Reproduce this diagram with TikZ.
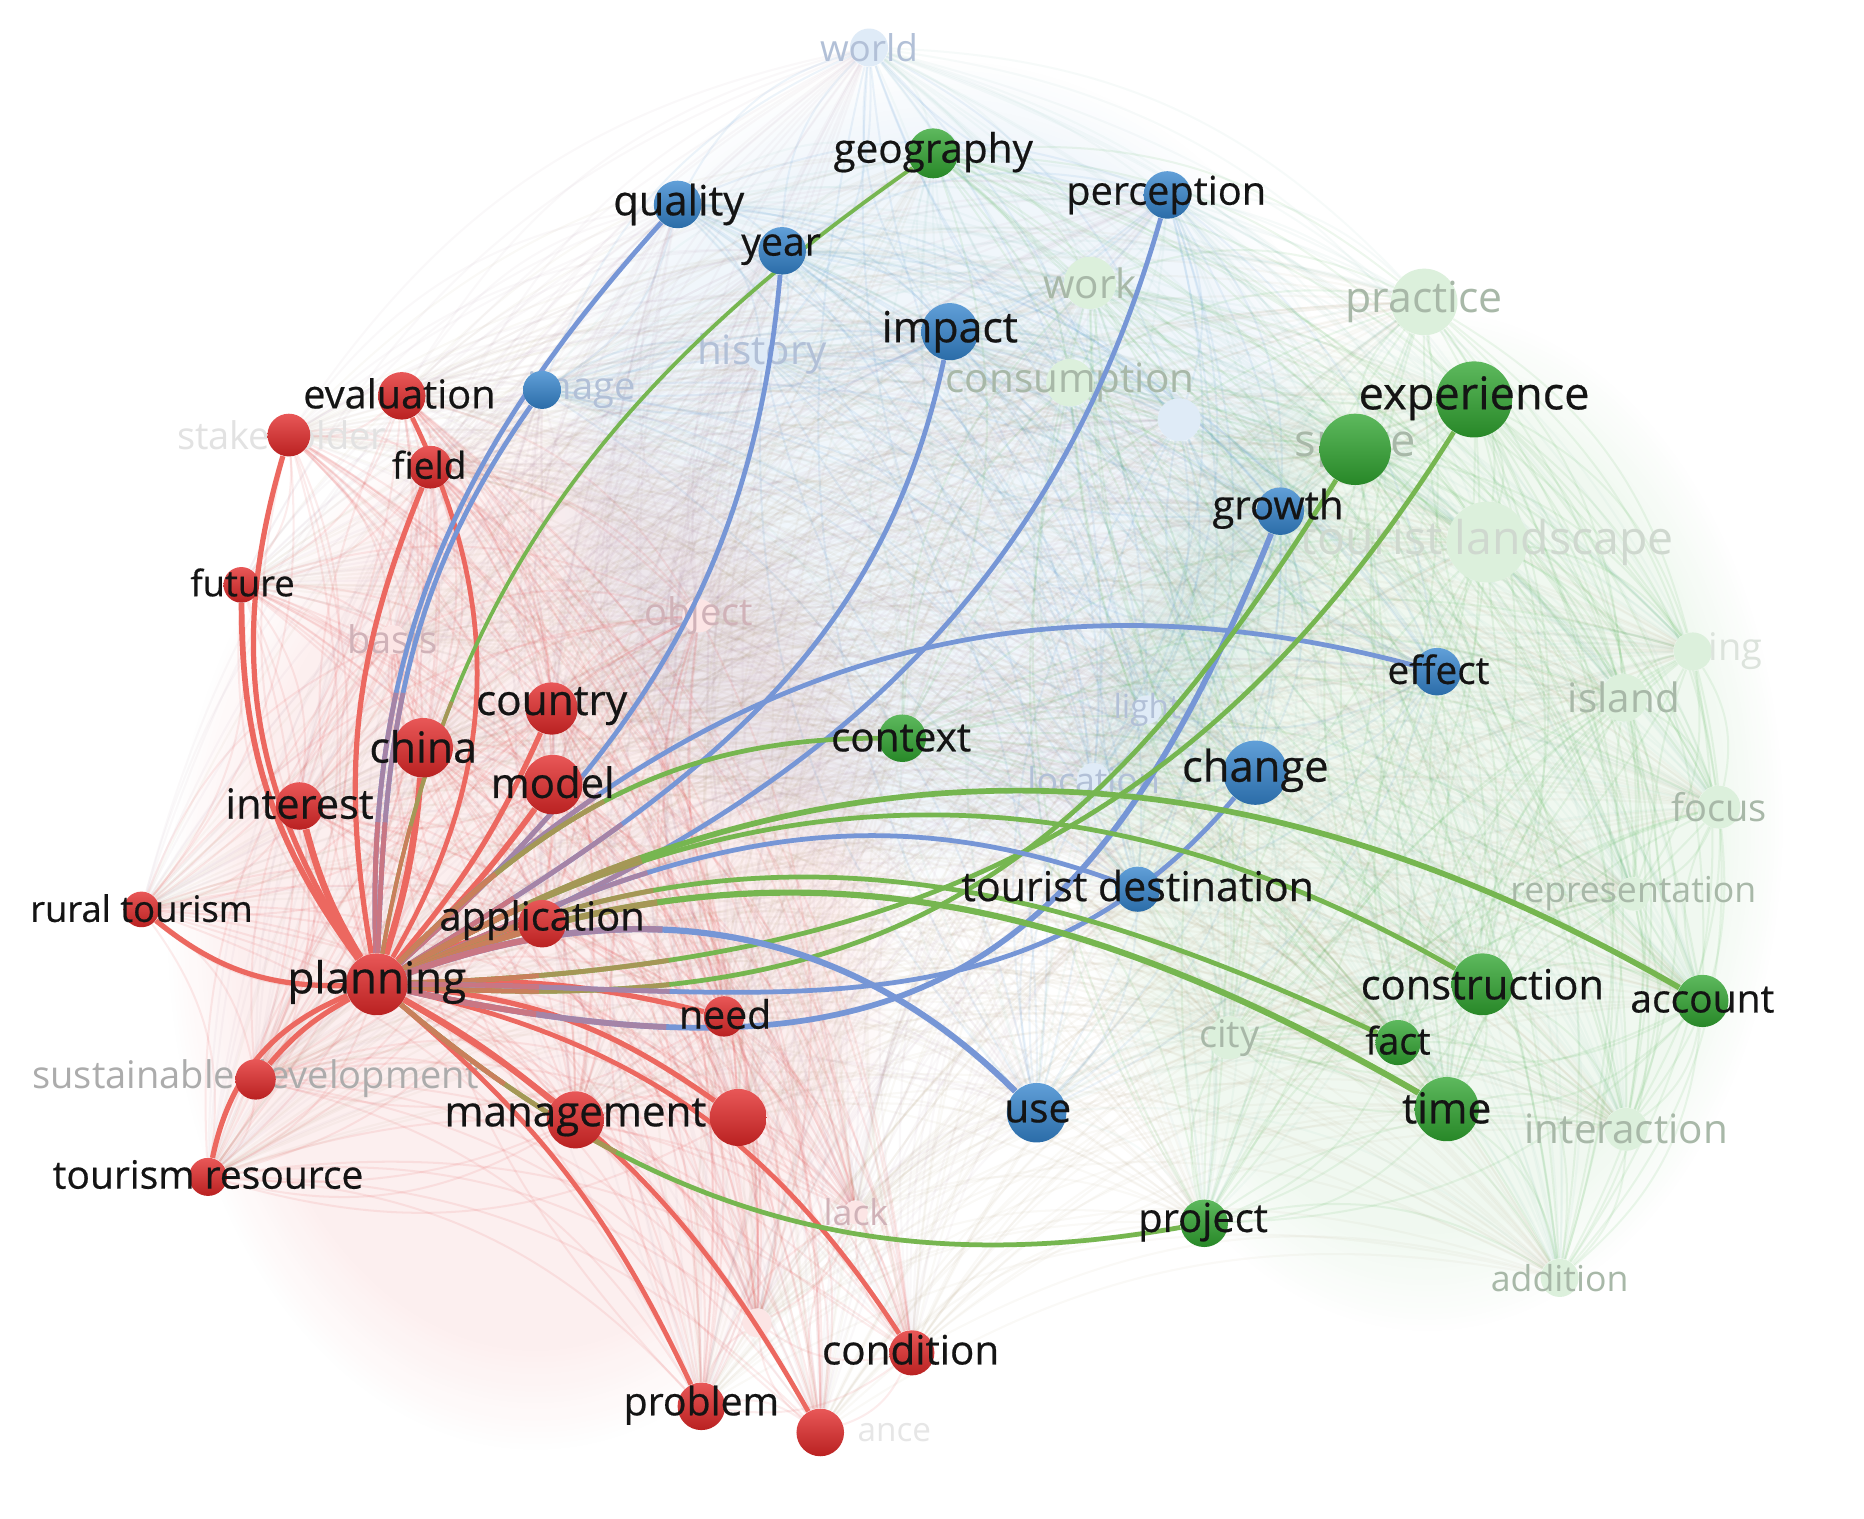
\documentclass[tikz,border=0pt]{standalone}
\usepackage{fontspec}
\setmainfont{Open Sans}
\newfontfamily\lbf{Open Sans}[FakeBold=0.5]
\usetikzlibrary{fadings}
\pgfdeclarelayer{bg}
\pgfdeclarelayer{fade}
\pgfdeclarelayer{strong}
\pgfsetlayers{bg,fade,strong,main}
\definecolor{cr}{RGB}{226,40,40}
\definecolor{cb}{RGB}{52,132,205}
\definecolor{cg}{RGB}{48,165,48}
\definecolor{redE}{RGB}{236,104,96}
\definecolor{blueE}{RGB}{118,150,214}
\definecolor{greenE}{RGB}{118,182,80}
\definecolor{fr}{RGB}{208,178,184}
\definecolor{fb}{RGB}{178,192,215}
\definecolor{fgn}{RGB}{168,184,168}
\definecolor{fgy}{RGB}{172,172,172}
\newcommand\fsz[1]{\fontsize{#1}{#1}\selectfont}
\tikzset{
 rdot/.style={circle,inner sep=0pt,minimum size=#1,top color=cr!78!white,bottom color=cr!82!black},
 bdot/.style={circle,inner sep=0pt,minimum size=#1,top color=cb!78!white,bottom color=cb!82!black},
 gdot/.style={circle,inner sep=0pt,minimum size=#1,top color=cg!78!white,bottom color=cg!82!black},
 rfd/.style={circle,inner sep=0pt,minimum size=#1,fill=cr!12!white},
 bfd/.style={circle,inner sep=0pt,minimum size=#1,fill=cb!16!white},
 gfd/.style={circle,inner sep=0pt,minimum size=#1,fill=cg!17!white},
 lb/.style={inner sep=0pt,text=black!92,font=\lbf\fsz{#1}},
 flb/.style 2 args={inner sep=0pt,text=#2,font=\fsz{#1}},
 redge/.style={draw=redE,line width=#1},
 cedge/.style={draw=#1,line width=2pt,
   postaction={draw=#1!60!redE,dash pattern=on 110pt off 3000pt},
   postaction={draw=#1!30!redE,dash pattern=on 55pt off 3000pt}},
 wash/.style={fill=#1,opacity=0.07,path fading=circle with fuzzy edge 20 percent}
}
\def\nodelist{plan/cr,eval/cr,stake/cr,field/cr,future/cr,country/cr,china/cr,model/cr,interest/cr,rural/cr,app/cr,need/cr,sust/cr,manag/cr,big/cr,resource/cr,cond/cr,problem/cr,bottom/cr,lack/cr,basis/cr,object/cr,rfaint/cr,quality/cb,year/cb,percep/cb,impact/cb,image/cb,growth/cb,effect/cb,change/cb,dest/cb,use/cb,world/cb,history/cb,bfaint/cb,light/cb,location/cb,geo/cg,exp/cg,space/cg,context/cg,constr/cg,account/cg,fact/cg,time/cg,project/cg,work/cg,consum/cg,practice/cg,tland/cg,island/cg,ing/cg,focus/cg,repr/cg,city/cg,inter/cg,addition/cg}
\begin{document}
\begin{tikzpicture}[x=0.5pt,y=0.5pt]
\begin{pgfonlayer}{bg}
\fill[white] (0,0) rectangle (1568,-1277);
\fill[wash=cr] (450,-780) ellipse [x radius=310, y radius=440];
\fill[wash=cb] (790,-400) ellipse [x radius=340, y radius=350];
\fill[wash=cg] (1200,-690) ellipse [x radius=300, y radius=430];
\end{pgfonlayer}
\useasboundingbox (0,0) rectangle (1568,-1277);
% ---------- bright nodes ----------
\node[rdot=20pt] (n-eval) at (338,-333) {};
\node[rdot=18pt] (n-stake) at (243,-366) {};
\node[rdot=18pt] (n-field) at (362,-393) {};
\node[rdot=15pt] (n-future) at (203,-492) {};
\node[rdot=22pt] (n-country) at (464,-596) {};
\node[rdot=25pt] (n-china) at (356,-629) {};
\node[rdot=25pt] (n-model) at (465,-660) {};
\node[rdot=20pt] (n-interest) at (252,-678) {};
\node[rdot=15pt] (n-rural) at (119,-765) {};
\node[rdot=20pt] (n-app) at (456,-777) {};
\node[rdot=26pt] (n-plan) at (317,-828) {};
\node[rdot=17pt] (n-need) at (609,-855) {};
\node[rdot=17pt] (n-sust) at (215,-908) {};
\node[rdot=24pt] (n-manag) at (484,-942) {};
\node[rdot=24pt] (n-big) at (621,-940) {};
\node[rdot=16pt] (n-resource) at (175,-990) {};
\node[rdot=19pt] (n-cond) at (767,-1138) {};
\node[rdot=20pt] (n-problem) at (590,-1183) {};
\node[rdot=20pt] (n-bottom) at (690,-1205) {};
\node[bdot=20pt] (n-quality) at (570,-172) {};
\node[bdot=20pt] (n-year) at (658,-211) {};
\node[bdot=20pt] (n-percep) at (982,-164) {};
\node[bdot=24pt] (n-impact) at (799,-279) {};
\node[bdot=16pt] (n-image) at (456,-328) {};
\node[bdot=20pt] (n-growth) at (1077,-430) {};
\node[bdot=20pt] (n-effect) at (1209,-565) {};
\node[bdot=27pt] (n-change) at (1056,-650) {};
\node[bdot=19pt] (n-dest) at (957,-748) {};
\node[bdot=25pt] (n-use) at (872,-936) {};
\node[gdot=21pt] (n-geo) at (785,-129) {};
\node[gdot=32pt] (n-exp) at (1240,-336) {};
\node[gdot=30pt] (n-space) at (1140,-378) {};
\node[gdot=20pt] (n-context) at (759,-621) {};
\node[gdot=26pt] (n-constr) at (1247,-828) {};
\node[gdot=22pt] (n-account) at (1432,-842) {};
\node[gdot=19pt] (n-fact) at (1176,-877) {};
\node[gdot=27pt] (n-time) at (1217,-933) {};
\node[gdot=20pt] (n-project) at (1013,-1029) {};
% ---------- faint nodes and faded labels ----------
\begin{pgfonlayer}{fade}
\node[rfd=10pt] (n-lack) at (720,-1020) {};
\node[rfd=12pt] (n-basis) at (330,-538) {};
\node[rfd=14pt] (n-object) at (588,-518) {};
\node[rfd=12pt] (n-rfaint) at (637,-1113) {};
\node[bfd=16pt] (n-world) at (731,-40) {};
\node[bfd=14pt] (n-history) at (641,-298) {};
\node[bfd=18pt] (n-bfaint) at (992,-353) {};
\node[bfd=12pt] (n-light) at (965,-597) {};
\node[bfd=14pt] (n-location) at (920,-656) {};
\node[gfd=22pt] (n-work) at (917,-238) {};
\node[gfd=20pt] (n-consum) at (900,-322) {};
\node[gfd=28pt] (n-practice) at (1198,-254) {};
\node[gfd=34pt] (n-tland) at (1251,-456) {};
\node[gfd=20pt] (n-island) at (1366,-587) {};
\node[gfd=16pt] (n-ing) at (1424,-548) {};
\node[gfd=18pt] (n-focus) at (1446,-679) {};
\node[gfd=14pt] (n-repr) at (1374,-752) {};
\node[gfd=18pt] (n-city) at (1034,-873) {};
\node[gfd=18pt] (n-inter) at (1368,-950) {};
\node[gfd=16pt] (n-addition) at (1312,-1075) {};
\node[flb={15}{fr}] (l-lack) at (n-lack) {lack};
\node[flb={16}{fr}] (l-basis) at (n-basis) {basis};
\node[flb={16}{fr}] (l-object) at (n-object) {object};
\node[flb={16}{fgy!35!white}] (l-stake) at (237,-366) {stakeholder};
\node[flb={16}{fgy}] (l-sust) at (215,-907) {sustainable development};
\node[flb={14}{fgy!30!white}, anchor=west] (l-bottom) at (721,-1205) {ance};
\node[flb={15.5}{fb}] (l-world) at (n-world) {world};
\node[flb={17}{fb}] (l-history) at (n-history) {history};
\node[flb={16}{fb}] (l-image) at (489,-328) {image};
\node[flb={14}{fb}] (l-light) at (n-light) {light};
\node[flb={15}{fb}] (l-location) at (n-location) {location};
\node[flb={17}{fgn}] (l-work) at (n-work) {work};
\node[flb={17}{fgn}] (l-consum) at (n-consum) {consumption};
\node[flb={18}{fgn}] (l-practice) at (n-practice) {practice};
\node[flb={19}{fgn}] (l-space) at (n-space) {space};
\node[flb={19.5}{fgn!55!white}] (l-tland) at (n-tland) {tourist landscape};
\node[flb={17}{fgn}] (l-island) at (n-island) {island};
\node[flb={16}{fgn!40!white}, anchor=west] (l-ing) at (1437,-548) {ing};
\node[flb={16}{fgn}] (l-focus) at (n-focus) {focus};
\node[flb={15}{fgn}] (l-repr) at (n-repr) {representation};
\node[flb={16}{fgn}] (l-city) at (n-city) {city};
\node[flb={17}{fgn}] (l-inter) at (n-inter) {interaction};
\node[flb={15}{fgn}] (l-addition) at (n-addition) {addition};
\end{pgfonlayer}
% ---------- faint web ----------
\begin{pgfonlayer}{bg}
\foreach \a/\ka [count=\i] in \nodelist {
  \foreach \b/\kb [count=\j] in \nodelist {
    \ifnum\j>\i
      \ifx\ka\kb\def\op{0.085}\else\def\op{0.04}\fi
      \draw[line width=0.85pt,draw=\ka!50!\kb,opacity=\op] (n-\a) to[bend left=22] (n-\b);
    \fi
  }
}
\end{pgfonlayer}
% ---------- strong edges ----------
\begin{pgfonlayer}{strong}
\draw[redge=2.2pt] (n-plan) to[bend left=25] (n-stake);
\draw[redge=2.4pt] (n-plan) to[bend left=18] (n-future);
\draw[redge=2pt] (n-plan) to[bend right=28] (n-eval);
\draw[redge=2.2pt] (n-plan) to[bend left=16] (n-field);
\draw[redge=2.8pt] (n-plan) to[bend left=8] (n-interest);
\draw[redge=2.8pt] (n-plan) to[bend right=6] (n-china);
\draw[redge=2.2pt] (n-plan) to[bend right=8] (n-country);
\draw[redge=2.4pt] (n-plan) to[bend right=5] (n-model);
\draw[redge=2.4pt] (n-plan) to[bend left=8] (n-app);
\draw[redge=2.2pt] (n-plan) to[bend left=20] (n-rural);
\draw[redge=2.2pt] (n-plan) to[bend right=28] (n-resource);
\draw[redge=2.2pt] (n-plan) to[bend right=10] (n-sust);
\draw[redge=2.2pt] (n-plan) to[bend left=8] (n-need);
\draw[redge=2.6pt] (n-plan) to[bend left=5] (n-manag);
\draw[redge=2.2pt] (n-plan) to[bend left=15] (n-big);
\draw[redge=2pt] (n-plan) to[bend left=22] (n-cond);
\draw[redge=2pt] (n-plan) to[bend left=15] (n-bottom);
\draw[redge=2pt] (n-plan) to[bend left=12] (n-problem);
\draw[cedge=blueE] (n-plan) to[out=92,in=-132] (n-quality);
\draw[cedge=blueE] (n-plan) to[out=88,in=-125] (n-image);
\draw[cedge=greenE,line width=1.6pt] (n-plan) to[out=80,in=-145] (n-geo);
\draw[cedge=blueE] (n-plan) to[out=42,in=-95] (n-year);
\draw[cedge=blueE] (n-plan) to[out=32,in=-102] (n-impact);
\draw[cedge=blueE] (n-plan) to[out=22,in=-106] (n-percep);
\draw[cedge=blueE] (n-plan) to[out=45,in=165] (n-effect);
\draw[cedge=greenE] (n-plan) to[out=45,in=180] (n-context);
\draw[cedge=blueE,line width=2.4pt] (n-plan) to[out=-12,in=-112,looseness=1.3] (n-growth);
\draw[cedge=greenE] (n-plan) to[out=-4,in=-122,looseness=1.15] (n-space);
\draw[cedge=greenE] (n-plan) to[out=2,in=-122,looseness=1.05] (n-exp);
\draw[cedge=blueE] (n-plan) to[out=0,in=-130] (n-change);
\draw[cedge=blueE] (n-plan) to[out=25,in=160] (n-dest);
\draw[cedge=greenE] (n-plan) to[out=30,in=150] (n-constr);
\draw[cedge=greenE,line width=2.4pt] (n-plan) to[out=30,in=150] (n-account);
\draw[cedge=greenE] (n-plan) to[out=25,in=155] (n-fact);
\draw[cedge=greenE,line width=2.6pt] (n-plan) to[out=22,in=150] (n-time);
\draw[cedge=blueE,line width=2.6pt] (n-plan) to[out=20,in=135] (n-use);
\draw[cedge=greenE] (n-plan) to[out=-40,in=-170] (n-project);
\end{pgfonlayer}
% ---------- labels ----------
\node[lb=16.7] (l-eval) at (336,-331) {evaluation};
\node[lb=15.5] (l-field) at (361,-391) {field};
\node[lb=15.3] (l-future) at (204,-490) {future};
\node[lb=17.8] (l-country) at (464,-594) {country};
\node[lb=18] (l-china) at (356,-628) {china};
\node[lb=17.6] (l-model) at (465,-658) {model};
\node[lb=17.5] (l-interest) at (252,-676) {interest};
\node[lb=15.3] (l-rural) at (119,-764) {rural tourism};
\node[lb=16.8] (l-app) at (456,-774) {application};
\node[lb=18.5] (l-plan) at (317,-826) {planning};
\node[lb=16.5] (l-need) at (610,-853) {need};
\node[lb=17.7] (l-manag) at (484,-940) {management};
\node[lb=16.4] (l-resource) at (175,-988) {tourism resource};
\node[lb=17] (l-cond) at (766,-1135) {condition};
\node[lb=16.5] (l-problem) at (590,-1182) {problem};
\node[lb=17.5] (l-quality) at (571,-172) {quality};
\node[lb=16.5] (l-year) at (657,-210) {year};
\node[lb=16.7] (l-percep) at (981,-164) {perception};
\node[lb=18] (l-impact) at (799,-279) {impact};
\node[lb=16.9] (l-growth) at (1075,-428) {growth};
\node[lb=16.3] (l-effect) at (1210,-563) {effect};
\node[lb=18.3] (l-change) at (1056,-648) {change};
\node[lb=17.3] (l-dest) at (957,-745) {tourist destination};
\node[lb=17] (l-use) at (873,-935) {use};
\node[lb=17] (l-geo) at (785,-128) {geography};
\node[lb=19] (l-exp) at (1240,-335) {experience};
\node[lb=17] (l-context) at (758,-621) {context};
\node[lb=17.5] (l-constr) at (1247,-828) {construction};
\node[lb=16.4] (l-account) at (1432,-841) {account};
\node[lb=15.9] (l-fact) at (1176,-875) {fact};
\node[lb=17.9] (l-time) at (1217,-932) {time};
\node[lb=16.8] (l-project) at (1012,-1028) {project};
\end{tikzpicture}
\end{document}
